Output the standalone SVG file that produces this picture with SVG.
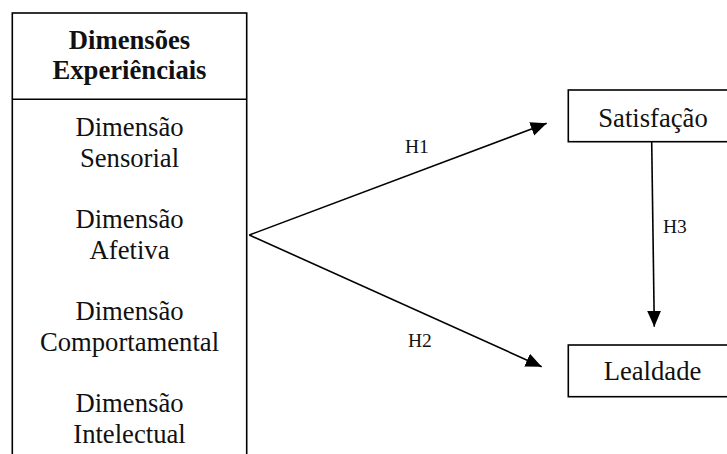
<svg xmlns="http://www.w3.org/2000/svg" width="727" height="454" viewBox="0 0 727 454">
  <style>
    .box { fill: #ffffff; stroke: #000000; stroke-width: 1.6; }
    .t { font-family: "Liberation Serif", "Times New Roman", serif; font-size: 26.67px; fill: #111111; text-anchor: middle; }
    .b { font-weight: bold; }
    .lbl { font-family: "Liberation Serif", "Times New Roman", serif; font-size: 19.5px; fill: #111111; }
    .edge { stroke: #000000; stroke-width: 1.6; fill: none; }
  </style>
  <defs>
    <marker id="arrow" markerUnits="userSpaceOnUse" markerWidth="17" markerHeight="15" refX="16" refY="7" orient="auto">
      <path d="M0,0 L16,7 L0,14 z" fill="#000000"/>
    </marker>
  </defs>
  <rect x="0" y="0" width="727" height="454" fill="#ffffff"/>

  <g id="dimensoes">
    <rect class="box" x="12.3" y="13" width="234.4" height="460"/>
    <line x1="12.3" y1="99.3" x2="246.7" y2="99.3" stroke="#000000" stroke-width="1.6"/>
    <text class="t b" x="129.5" y="49">Dimensões</text>
    <text class="t b" x="129.5" y="79">Experiênciais</text>
    <text class="t" x="129.5" y="136">Dimensão</text>
    <text class="t" x="129.5" y="166.7">Sensorial</text>
    <text class="t" x="129.5" y="228.1">Dimensão</text>
    <text class="t" x="129.5" y="258.8">Afetiva</text>
    <text class="t" x="129.5" y="320.2">Dimensão</text>
    <text class="t" x="129.5" y="350.9">Comportamental</text>
    <text class="t" x="129.5" y="412.3">Dimensão</text>
    <text class="t" x="129.5" y="443">Intelectual</text>
  </g>

  <g id="satisfacao">
    <rect class="box" x="568.3" y="90" width="170" height="51.7"/>
    <text class="t" x="653" y="126.7">Satisfação</text>
  </g>

  <g id="lealdade">
    <rect class="box" x="568.3" y="345" width="170" height="51.7"/>
    <text class="t" x="652.5" y="380">Lealdade</text>
  </g>

  <g id="connectors">
    <line class="edge" x1="249.3" y1="235" x2="546.7" y2="123.3" marker-end="url(#arrow)"/>
    <line class="edge" x1="249.3" y1="235" x2="541.7" y2="366.7" marker-end="url(#arrow)"/>
    <line class="edge" x1="651.7" y1="141.7" x2="654.3" y2="326.7" marker-end="url(#arrow)"/>
    <text class="lbl" x="405" y="153">H1</text>
    <text class="lbl" x="408" y="346.7">H2</text>
    <text class="lbl" x="663" y="232.7">H3</text>
  </g>
</svg>
